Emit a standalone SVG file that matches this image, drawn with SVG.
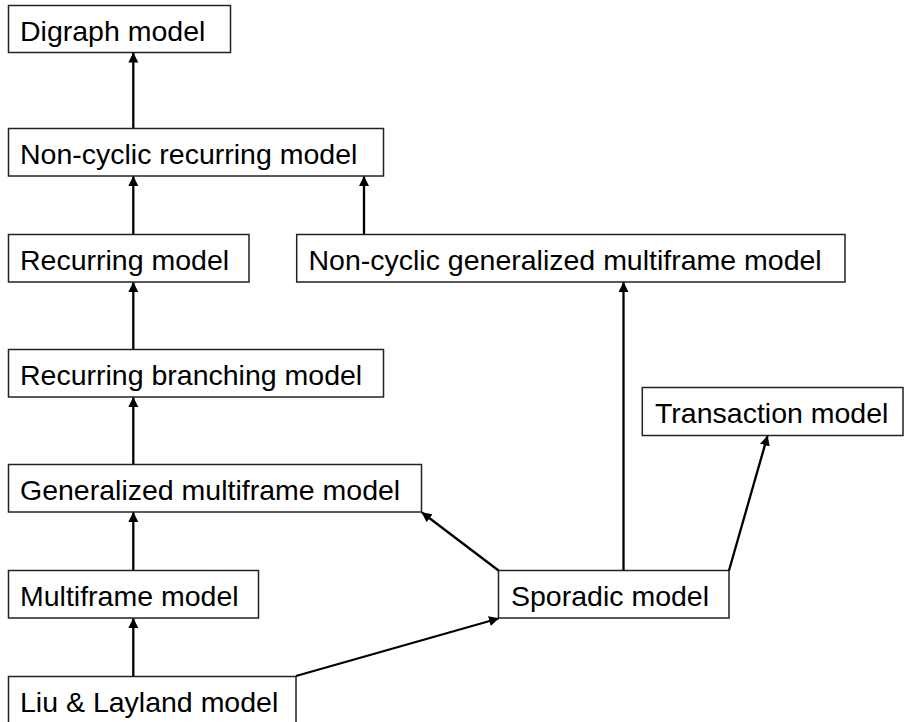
<svg xmlns="http://www.w3.org/2000/svg" width="904" height="722" viewBox="0 0 904 722">
<defs>
<style>
.box{fill:#fff;stroke:#222;stroke-width:1.5}
.lbl{font-family:"Liberation Sans",Arial,sans-serif;font-size:28.5px;fill:#000}
.con{stroke:#000;stroke-width:2.3;fill:none}
</style>
<marker id="ah" markerUnits="userSpaceOnUse" markerWidth="11" markerHeight="11" refX="9.5" refY="5" orient="auto">
<path d="M0,0 L10,5 L0,10 z" fill="#000"/>
</marker>
</defs>
<rect width="904" height="722" fill="#fff"/>
<g id="digraph"><rect class="box" x="8.5" y="5.5" width="222" height="47"/><text class="lbl" x="20" y="41">Digraph model</text></g>
<g id="noncyclic-recurring"><rect class="box" x="8.5" y="128.5" width="375" height="47.5"/><text class="lbl" x="20" y="164">Non-cyclic recurring model</text></g>
<g id="recurring"><rect class="box" x="8.5" y="234.5" width="240.5" height="47.5"/><text class="lbl" x="20" y="270">Recurring model</text></g>
<g id="noncyclic-gmf"><rect class="box" x="296.7" y="234.5" width="548.3" height="47.5"/><text class="lbl" x="308.5" y="270">Non-cyclic generalized multiframe model</text></g>
<g id="recurring-branching"><rect class="box" x="8.5" y="349.5" width="375" height="47.5"/><text class="lbl" x="20" y="385">Recurring branching model</text></g>
<g id="transaction"><rect class="box" x="642.3" y="387.5" width="260.7" height="48"/><text class="lbl" x="655" y="423">Transaction model</text></g>
<g id="gmf"><rect class="box" x="8.5" y="464.5" width="413" height="47.5"/><text class="lbl" x="20" y="500">Generalized multiframe model</text></g>
<g id="multiframe"><rect class="box" x="8.5" y="570.5" width="250" height="47.5"/><text class="lbl" x="20" y="606">Multiframe model</text></g>
<g id="sporadic"><rect class="box" x="498.5" y="570.5" width="230.5" height="47.5"/><text class="lbl" x="511" y="606">Sporadic model</text></g>
<g id="liu-layland"><rect class="box" x="8.5" y="676.5" width="287.5" height="48"/><text class="lbl" x="20" y="712">Liu &amp; Layland model</text></g>
<g id="connectors">
<line class="con" x1="133.3" y1="128" x2="133.3" y2="53" marker-end="url(#ah)"/>
<line class="con" x1="133.3" y1="234" x2="133.3" y2="176.5" marker-end="url(#ah)"/>
<line class="con" x1="364" y1="234" x2="364" y2="176.5" marker-end="url(#ah)"/>
<line class="con" x1="133.3" y1="349" x2="133.3" y2="282.5" marker-end="url(#ah)"/>
<line class="con" x1="133.3" y1="464" x2="133.3" y2="397.5" marker-end="url(#ah)"/>
<line class="con" x1="133.3" y1="570" x2="133.3" y2="512.5" marker-end="url(#ah)"/>
<line class="con" x1="133.3" y1="676" x2="133.3" y2="618.5" marker-end="url(#ah)"/>
<line class="con" x1="296" y1="676" x2="498.5" y2="618.5" marker-end="url(#ah)"/>
<line class="con" x1="498.5" y1="570.5" x2="422" y2="512.5" marker-end="url(#ah)"/>
<line class="con" x1="623.5" y1="570.5" x2="623.5" y2="282.5" marker-end="url(#ah)"/>
<line class="con" x1="729" y1="570.5" x2="767.5" y2="436" marker-end="url(#ah)"/>
</g>
</svg>
